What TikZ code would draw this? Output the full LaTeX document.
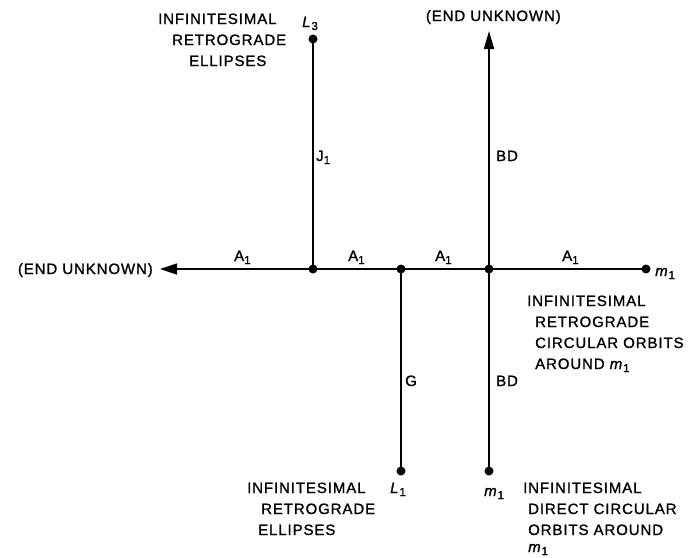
\documentclass[tikz,border=0pt]{standalone}
\usepackage{fontspec}
\setmainfont{Liberation Sans}
\newfontfamily\lblfont[LetterSpace=6,FakeBold=1.2]{Liberation Sans}
\usetikzlibrary{arrows.meta}
\newcommand{\mysub}[1]{\raisebox{-3pt}{\fontsize{11.5}{11.5}\selectfont #1}}
\newcommand{\Lsym}[1]{\textit{L}\mysub{#1}}
\newcommand{\msym}[1]{\textit{m}\mysub{#1}}
\tikzset{
  lbl/.style={inner sep=0pt, anchor=base west, font=\lblfont\fontsize{15}{15}\selectfont},
  dot/.style={circle, fill=black, inner sep=0pt, minimum size=9pt},
  hline/.style={line width=1.4pt},
  vline/.style={line width=1.9pt},
}
\begin{document}
\begin{tikzpicture}[x=1pt,y=-1pt]
\useasboundingbox (0,0) rectangle (692,557);
% dots
\node[dot] (d1) at (313,269) {};
\node[dot] (d2) at (401,269) {};
\node[dot] (d3) at (489,269) {};
\node[dot] (m1r) at (646,269) {};
\node[dot] (L3) at (313,39) {};
\node[dot] (L1) at (401,471) {};
\node[dot] (m1b) at (489,471) {};
\coordinate (leftend) at (160,269);
\coordinate (topend) at (489,31);
% connectors
\draw[hline] (m1r.center) -- (d1.center);
\draw[hline,-{Triangle[length=17pt,width=11pt]}] (d1.center) -- (leftend);
\draw[vline] (L3.center) -- (d1.center);
\draw[vline] (d2.center) -- (L1.center);
\draw[vline] (d3.center) -- (m1b.center);
\draw[vline,-{Triangle[length=18pt,width=10pt]}] (d3.center) -- (topend);
% edge labels
\node[lbl] (a1) at (234,261) {A\mysub{1}};
\node[lbl] (a2) at (348,261) {A\mysub{1}};
\node[lbl] (a3) at (435,261) {A\mysub{1}};
\node[lbl] (a4) at (562,261) {A\mysub{1}};
\node[lbl] (j1) at (316,161) {J\mysub{1}};
\node[lbl] (bd1) at (496,161) {BD};
\node[lbl] (g) at (405,386) {G};
\node[lbl] (bd2) at (496,386) {BD};
% end labels
\node[lbl,anchor=base east] (eu1) at (153,274) {(END UNKNOWN)};
\node[lbl,anchor=base east] (eu2) at (561,21) {(END UNKNOWN)};
% point labels
\node[lbl] (l3) at (302,27) {\Lsym{3}};
\node[lbl] (l1) at (390,493) {\Lsym{1}};
\node[lbl] (m1a) at (655,276) {\msym{1}};
\node[lbl] (m1c) at (484,496) {\msym{1}};
% descriptions
\node[lbl] (t1) at (158,24) {INFINITESIMAL};
\node[lbl] (t2) at (172,45) {RETROGRADE};
\node[lbl] (t3) at (189,66) {ELLIPSES};
\node[lbl] (r1) at (527,306) {INFINITESIMAL};
\node[lbl] (r2) at (535,327) {RETROGRADE};
\node[lbl] (r3) at (535,348) {CIRCULAR ORBITS};
\node[lbl] (r4) at (535,369) {AROUND \msym{1}};
\node[lbl] (b1) at (247,493) {INFINITESIMAL};
\node[lbl] (b2) at (261,514) {RETROGRADE};
\node[lbl] (b3) at (258,535) {ELLIPSES};
\node[lbl] (c1) at (523,493) {INFINITESIMAL};
\node[lbl] (c2) at (528,514) {DIRECT CIRCULAR};
\node[lbl] (c3) at (528,535) {ORBITS AROUND};
\node[lbl] (c4) at (528,552) {\msym{1}};
\end{tikzpicture}
\end{document}
